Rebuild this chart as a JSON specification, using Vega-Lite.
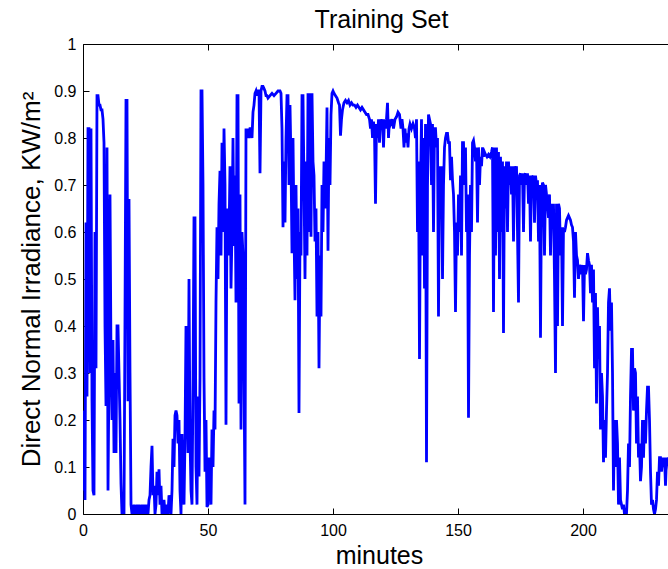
{
  "$schema": "https://vega.github.io/schema/vega-lite/v6.json",
  "width": 585,
  "height": 470,
  "autosize": "none",
  "padding": {"left": 83, "top": 44, "right": 0, "bottom": 55},
  "background": "white",
  "title": {"text": "Training Set", "font": "Liberation Sans", "fontSize": 25, "fontWeight": "normal", "color": "black", "offset": 3, "dx": 6},
  "config": {
    "view": {"stroke": null},
    "axis": {
      "grid": false,
      "domainColor": "black",
      "domainWidth": 1,
      "tickColor": "black",
      "tickWidth": 1,
      "tickSize": -6,
      "labelFont": "Liberation Sans",
      "labelFontSize": 16,
      "labelColor": "black",
      "titleFont": "Liberation Sans",
      "titleFontSize": 25,
      "titleFontWeight": "normal",
      "titleColor": "black"
    }
  },
  "data": {"values": [
    {"t":0.0,"v":0.05},{"t":0.4,"v":0.22},{"t":0.8,"v":0.03},{"t":1.2,"v":0.62},{"t":1.6,"v":0.25},{"t":2.0,"v":0.82},{"t":2.4,"v":0.82},{"t":2.8,"v":0.30},{"t":3.2,"v":0.82},{"t":3.6,"v":0.24},
    {"t":4.0,"v":0.05},{"t":4.4,"v":0.04},{"t":4.8,"v":0.60},{"t":5.2,"v":0.31},{"t":5.6,"v":0.89},{"t":6.0,"v":0.89},{"t":6.4,"v":0.87},{"t":6.8,"v":0.87},{"t":7.2,"v":0.86},{"t":7.6,"v":0.86},
    {"t":8.0,"v":0.84},{"t":8.4,"v":0.79},{"t":8.8,"v":0.40},{"t":9.2,"v":0.23},{"t":9.6,"v":0.78},{"t":10.0,"v":0.05},{"t":10.4,"v":0.30},{"t":10.8,"v":0.68},{"t":11.2,"v":0.33},{"t":11.6,"v":0.20},
    {"t":12.0,"v":0.37},{"t":12.4,"v":0.13},{"t":12.8,"v":0.30},{"t":13.2,"v":0.13},{"t":13.6,"v":0.40},{"t":14.0,"v":0.40},{"t":14.4,"v":0.30},{"t":14.8,"v":0.20},{"t":15.2,"v":0.065},{"t":15.6,"v":0.0},
    {"t":16.0,"v":0.0},{"t":16.4,"v":0.0},{"t":16.8,"v":0.42},{"t":17.2,"v":0.88},{"t":17.6,"v":0.88},{"t":18.0,"v":0.24},{"t":18.4,"v":0.67},{"t":18.8,"v":0.30},{"t":19.2,"v":0.02},{"t":19.6,"v":0.0},
    {"t":20.0,"v":0.0},{"t":20.4,"v":0.02},{"t":20.8,"v":0.0},{"t":21.2,"v":0.0},{"t":21.6,"v":0.02},{"t":22.0,"v":0.0},{"t":22.4,"v":0.02},{"t":22.8,"v":0.0},{"t":23.2,"v":0.0},{"t":23.6,"v":0.02},
    {"t":24.0,"v":0.0},{"t":24.4,"v":0.02},{"t":24.8,"v":0.0},{"t":25.2,"v":0.02},{"t":25.6,"v":0.0},{"t":26.0,"v":0.0},{"t":26.4,"v":0.03},{"t":26.8,"v":0.04},{"t":27.2,"v":0.10},{"t":27.6,"v":0.145},
    {"t":28.0,"v":0.04},{"t":28.4,"v":0.06},{"t":28.8,"v":0.0},{"t":29.2,"v":0.02},{"t":29.6,"v":0.09},{"t":30.0,"v":0.04},{"t":30.4,"v":0.095},{"t":30.8,"v":0.02},{"t":31.2,"v":0.06},{"t":31.6,"v":0.0},
    {"t":32.0,"v":0.0},{"t":32.4,"v":0.03},{"t":32.8,"v":0.0},{"t":33.2,"v":0.0},{"t":33.6,"v":0.02},{"t":34.0,"v":0.0},{"t":34.4,"v":0.04},{"t":34.8,"v":0.02},{"t":35.2,"v":0.0},{"t":35.6,"v":0.05},
    {"t":36.0,"v":0.16},{"t":36.4,"v":0.10},{"t":36.8,"v":0.21},{"t":37.2,"v":0.22},{"t":37.6,"v":0.21},{"t":38.0,"v":0.15},{"t":38.4,"v":0.20},{"t":38.8,"v":0.05},{"t":39.2,"v":0.0},{"t":39.6,"v":0.17},
    {"t":40.0,"v":0.08},{"t":40.4,"v":0.02},{"t":40.8,"v":0.16},{"t":41.2,"v":0.40},{"t":41.6,"v":0.30},{"t":42.0,"v":0.13},{"t":42.4,"v":0.50},{"t":42.8,"v":0.16},{"t":43.2,"v":0.05},{"t":43.6,"v":0.02},
    {"t":44.0,"v":0.28},{"t":44.4,"v":0.63},{"t":44.8,"v":0.63},{"t":45.2,"v":0.10},{"t":45.6,"v":0.02},{"t":46.0,"v":0.25},{"t":46.4,"v":0.08},{"t":46.8,"v":0.29},{"t":47.2,"v":0.90},{"t":47.6,"v":0.90},
    {"t":48.0,"v":0.70},{"t":48.4,"v":0.29},{"t":48.8,"v":0.09},{"t":49.2,"v":0.20},{"t":49.6,"v":0.015},{"t":50.0,"v":0.02},{"t":50.4,"v":0.12},{"t":50.8,"v":0.10},{"t":51.2,"v":0.02},{"t":51.6,"v":0.18},
    {"t":52.0,"v":0.10},{"t":52.4,"v":0.22},{"t":52.8,"v":0.18},{"t":53.2,"v":0.45},{"t":53.6,"v":0.61},{"t":54.0,"v":0.50},{"t":54.4,"v":0.66},{"t":54.8,"v":0.73},{"t":55.2,"v":0.55},{"t":55.6,"v":0.79},
    {"t":56.0,"v":0.60},{"t":56.4,"v":0.82},{"t":56.8,"v":0.70},{"t":57.2,"v":0.19},{"t":57.6,"v":0.65},{"t":58.0,"v":0.55},{"t":58.4,"v":0.59},{"t":58.8,"v":0.74},{"t":59.2,"v":0.48},{"t":59.6,"v":0.60},
    {"t":60.0,"v":0.80},{"t":60.4,"v":0.57},{"t":60.8,"v":0.72},{"t":61.2,"v":0.45},{"t":61.6,"v":0.89},{"t":62.0,"v":0.89},{"t":62.4,"v":0.235},{"t":62.8,"v":0.68},{"t":63.2,"v":0.18},{"t":63.6,"v":0.60},
    {"t":64.0,"v":0.55},{"t":64.4,"v":0.30},{"t":64.8,"v":0.02},{"t":65.2,"v":0.82},{"t":65.6,"v":0.80},{"t":66.0,"v":0.82},{"t":66.4,"v":0.80},{"t":66.8,"v":0.82},{"t":67.2,"v":0.82},{"t":67.6,"v":0.80},
    {"t":68.0,"v":0.855},{"t":68.4,"v":0.87},{"t":68.8,"v":0.895},{"t":69.2,"v":0.90},{"t":69.6,"v":0.89},{"t":70.0,"v":0.90},{"t":70.4,"v":0.90},{"t":70.8,"v":0.725},{"t":71.2,"v":0.90},{"t":71.6,"v":0.91},
    {"t":72.0,"v":0.91},{"t":72.4,"v":0.905},{"t":72.8,"v":0.90},{"t":73.2,"v":0.89},{"t":73.6,"v":0.89},{"t":74.0,"v":0.885},{"t":74.8,"v":0.89},{"t":75.6,"v":0.895},{"t":76.4,"v":0.89},{"t":77.2,"v":0.895},
    {"t":78.0,"v":0.90},{"t":78.8,"v":0.90},{"t":79.2,"v":0.895},{"t":79.6,"v":0.82},{"t":80.0,"v":0.61},{"t":80.4,"v":0.75},{"t":80.8,"v":0.62},{"t":81.2,"v":0.80},{"t":81.6,"v":0.89},{"t":82.0,"v":0.89},
    {"t":82.4,"v":0.70},{"t":82.8,"v":0.87},{"t":83.2,"v":0.75},{"t":83.6,"v":0.555},{"t":84.0,"v":0.80},{"t":84.4,"v":0.60},{"t":84.8,"v":0.455},{"t":85.2,"v":0.70},{"t":85.6,"v":0.50},{"t":86.0,"v":0.65},
    {"t":86.4,"v":0.215},{"t":86.8,"v":0.60},{"t":87.2,"v":0.55},{"t":87.6,"v":0.89},{"t":88.0,"v":0.89},{"t":88.4,"v":0.70},{"t":88.8,"v":0.50},{"t":89.2,"v":0.75},{"t":89.6,"v":0.55},{"t":90.0,"v":0.895},
    {"t":90.4,"v":0.60},{"t":90.8,"v":0.895},{"t":91.2,"v":0.59},{"t":91.6,"v":0.895},{"t":92.0,"v":0.75},{"t":92.4,"v":0.72},{"t":92.8,"v":0.58},{"t":93.2,"v":0.65},{"t":93.6,"v":0.42},{"t":94.0,"v":0.60},
    {"t":94.4,"v":0.31},{"t":94.8,"v":0.55},{"t":95.2,"v":0.42},{"t":95.6,"v":0.70},{"t":96.0,"v":0.60},{"t":96.4,"v":0.75},{"t":96.8,"v":0.65},{"t":97.2,"v":0.72},{"t":97.6,"v":0.865},{"t":98.0,"v":0.56},
    {"t":98.4,"v":0.80},{"t":98.8,"v":0.70},{"t":99.2,"v":0.85},{"t":99.6,"v":0.895},{"t":100.0,"v":0.90},{"t":100.4,"v":0.895},{"t":101.0,"v":0.89},{"t":101.6,"v":0.885},{"t":102.2,"v":0.875},{"t":102.6,"v":0.87},
    {"t":103.0,"v":0.805},{"t":103.4,"v":0.84},{"t":103.8,"v":0.86},{"t":104.4,"v":0.875},{"t":105.0,"v":0.88},{"t":105.6,"v":0.875},{"t":106.2,"v":0.88},{"t":106.8,"v":0.87},{"t":107.4,"v":0.875},{"t":108.0,"v":0.87},
    {"t":108.6,"v":0.87},{"t":109.2,"v":0.865},{"t":109.8,"v":0.87},{"t":110.4,"v":0.865},{"t":111.0,"v":0.86},{"t":111.6,"v":0.865},{"t":112.2,"v":0.86},{"t":112.8,"v":0.855},{"t":113.4,"v":0.85},{"t":114.0,"v":0.85},
    {"t":114.6,"v":0.84},{"t":115.0,"v":0.82},{"t":115.4,"v":0.84},{"t":115.8,"v":0.80},{"t":116.2,"v":0.835},{"t":116.6,"v":0.81},{"t":117.0,"v":0.66},{"t":117.4,"v":0.83},{"t":117.8,"v":0.80},{"t":118.2,"v":0.84},
    {"t":118.6,"v":0.79},{"t":119.0,"v":0.84},{"t":119.4,"v":0.82},{"t":119.8,"v":0.84},{"t":120.2,"v":0.78},{"t":120.6,"v":0.84},{"t":121.0,"v":0.82},{"t":121.4,"v":0.84},{"t":121.8,"v":0.875},{"t":122.2,"v":0.80},
    {"t":122.6,"v":0.84},{"t":123.0,"v":0.83},{"t":123.6,"v":0.84},{"t":124.2,"v":0.82},{"t":124.8,"v":0.84},{"t":125.4,"v":0.845},{"t":126.0,"v":0.855},{"t":126.6,"v":0.85},{"t":127.2,"v":0.82},{"t":127.6,"v":0.84},
    {"t":128.0,"v":0.82},{"t":128.4,"v":0.78},{"t":128.8,"v":0.82},{"t":129.2,"v":0.79},{"t":129.6,"v":0.81},{"t":130.0,"v":0.78},{"t":130.4,"v":0.82},{"t":130.8,"v":0.83},{"t":131.4,"v":0.82},{"t":132.0,"v":0.83},
    {"t":132.6,"v":0.82},{"t":133.0,"v":0.80},{"t":133.4,"v":0.84},{"t":133.8,"v":0.60},{"t":134.2,"v":0.75},{"t":134.6,"v":0.33},{"t":135.0,"v":0.70},{"t":135.4,"v":0.84},{"t":135.8,"v":0.55},{"t":136.2,"v":0.80},
    {"t":136.6,"v":0.48},{"t":137.0,"v":0.83},{"t":137.4,"v":0.11},{"t":137.8,"v":0.70},{"t":138.2,"v":0.85},{"t":138.6,"v":0.84},{"t":139.0,"v":0.83},{"t":139.4,"v":0.70},{"t":139.8,"v":0.83},{"t":140.2,"v":0.60},
    {"t":140.6,"v":0.82},{"t":141.0,"v":0.82},{"t":141.4,"v":0.78},{"t":141.8,"v":0.80},{"t":142.2,"v":0.42},{"t":142.6,"v":0.74},{"t":143.0,"v":0.68},{"t":143.4,"v":0.74},{"t":143.8,"v":0.50},{"t":144.2,"v":0.70},
    {"t":144.6,"v":0.78},{"t":145.0,"v":0.80},{"t":145.4,"v":0.81},{"t":145.8,"v":0.81},{"t":146.2,"v":0.79},{"t":146.6,"v":0.79},{"t":147.0,"v":0.71},{"t":147.4,"v":0.76},{"t":147.8,"v":0.71},{"t":148.2,"v":0.68},
    {"t":148.6,"v":0.60},{"t":149.0,"v":0.43},{"t":149.4,"v":0.62},{"t":149.8,"v":0.55},{"t":150.2,"v":0.68},{"t":150.6,"v":0.60},{"t":151.0,"v":0.72},{"t":151.4,"v":0.55},{"t":151.8,"v":0.79},{"t":152.2,"v":0.79},
    {"t":152.6,"v":0.70},{"t":153.0,"v":0.78},{"t":153.4,"v":0.60},{"t":153.8,"v":0.68},{"t":154.2,"v":0.205},{"t":154.6,"v":0.55},{"t":155.0,"v":0.70},{"t":155.4,"v":0.60},{"t":155.8,"v":0.79},{"t":156.2,"v":0.795},
    {"t":156.6,"v":0.78},{"t":157.0,"v":0.75},{"t":157.4,"v":0.78},{"t":157.8,"v":0.62},{"t":158.2,"v":0.78},{"t":158.6,"v":0.70},{"t":159.0,"v":0.76},{"t":159.4,"v":0.74},{"t":159.8,"v":0.78},{"t":160.2,"v":0.76},
    {"t":160.6,"v":0.77},{"t":161.0,"v":0.765},{"t":161.6,"v":0.76},{"t":162.2,"v":0.765},{"t":162.8,"v":0.76},{"t":163.4,"v":0.77},{"t":163.8,"v":0.78},{"t":164.2,"v":0.43},{"t":164.6,"v":0.78},{"t":165.0,"v":0.55},
    {"t":165.4,"v":0.78},{"t":165.8,"v":0.60},{"t":166.2,"v":0.77},{"t":166.6,"v":0.50},{"t":167.0,"v":0.76},{"t":167.4,"v":0.60},{"t":167.8,"v":0.75},{"t":168.2,"v":0.385},{"t":168.6,"v":0.74},{"t":169.0,"v":0.65},
    {"t":169.4,"v":0.75},{"t":169.8,"v":0.60},{"t":170.2,"v":0.75},{"t":170.6,"v":0.70},{"t":171.0,"v":0.74},{"t":171.4,"v":0.68},{"t":171.8,"v":0.74},{"t":172.2,"v":0.58},{"t":172.6,"v":0.74},{"t":173.0,"v":0.72},
    {"t":173.4,"v":0.74},{"t":173.8,"v":0.60},{"t":174.2,"v":0.45},{"t":174.6,"v":0.72},{"t":175.0,"v":0.725},{"t":175.4,"v":0.70},{"t":175.8,"v":0.725},{"t":176.2,"v":0.60},{"t":176.6,"v":0.72},{"t":177.0,"v":0.725},
    {"t":177.4,"v":0.70},{"t":177.8,"v":0.725},{"t":178.2,"v":0.66},{"t":178.6,"v":0.72},{"t":179.0,"v":0.58},{"t":179.4,"v":0.72},{"t":179.8,"v":0.71},{"t":180.2,"v":0.72},{"t":180.6,"v":0.62},{"t":181.0,"v":0.72},
    {"t":181.4,"v":0.70},{"t":181.8,"v":0.71},{"t":182.2,"v":0.58},{"t":182.6,"v":0.70},{"t":183.0,"v":0.375},{"t":183.4,"v":0.68},{"t":183.8,"v":0.705},{"t":184.2,"v":0.70},{"t":184.6,"v":0.55},{"t":185.0,"v":0.70},
    {"t":185.4,"v":0.68},{"t":185.8,"v":0.66},{"t":186.2,"v":0.63},{"t":186.6,"v":0.68},{"t":187.0,"v":0.55},{"t":187.4,"v":0.66},{"t":187.8,"v":0.63},{"t":188.2,"v":0.66},{"t":188.6,"v":0.50},{"t":189.0,"v":0.30},
    {"t":189.4,"v":0.66},{"t":189.8,"v":0.40},{"t":190.2,"v":0.66},{"t":190.6,"v":0.65},{"t":191.0,"v":0.55},{"t":191.4,"v":0.61},{"t":191.8,"v":0.40},{"t":192.2,"v":0.61},{"t":192.6,"v":0.60},{"t":193.0,"v":0.61},
    {"t":193.4,"v":0.625},{"t":193.8,"v":0.63},{"t":194.2,"v":0.635},{"t":194.6,"v":0.63},{"t":195.0,"v":0.625},{"t":195.4,"v":0.615},{"t":195.8,"v":0.61},{"t":196.2,"v":0.58},{"t":196.6,"v":0.46},{"t":197.0,"v":0.60},
    {"t":197.4,"v":0.55},{"t":197.8,"v":0.54},{"t":198.2,"v":0.50},{"t":198.6,"v":0.53},{"t":199.0,"v":0.52},{"t":199.4,"v":0.51},{"t":199.8,"v":0.53},{"t":200.2,"v":0.41},{"t":200.6,"v":0.53},{"t":201.0,"v":0.51},
    {"t":201.4,"v":0.52},{"t":201.8,"v":0.555},{"t":202.2,"v":0.54},{"t":202.6,"v":0.53},{"t":203.0,"v":0.47},{"t":203.4,"v":0.53},{"t":203.8,"v":0.45},{"t":204.2,"v":0.52},{"t":204.6,"v":0.31},{"t":205.0,"v":0.47},
    {"t":205.4,"v":0.235},{"t":205.8,"v":0.44},{"t":206.2,"v":0.33},{"t":206.6,"v":0.40},{"t":207.0,"v":0.18},{"t":207.4,"v":0.30},{"t":207.8,"v":0.25},{"t":208.2,"v":0.11},{"t":208.6,"v":0.20},{"t":209.0,"v":0.12},
    {"t":209.4,"v":0.22},{"t":209.8,"v":0.30},{"t":210.2,"v":0.45},{"t":210.6,"v":0.48},{"t":211.0,"v":0.39},{"t":211.4,"v":0.45},{"t":211.8,"v":0.30},{"t":212.2,"v":0.05},{"t":212.6,"v":0.20},{"t":213.0,"v":0.10},
    {"t":213.4,"v":0.20},{"t":213.8,"v":0.15},{"t":214.2,"v":0.02},{"t":214.6,"v":0.12},{"t":215.0,"v":0.03},{"t":215.4,"v":0.02},{"t":215.8,"v":0.01},{"t":216.2,"v":0.02},{"t":216.6,"v":0.0},{"t":217.0,"v":0.01},
    {"t":217.4,"v":0.0},{"t":217.8,"v":0.05},{"t":218.2,"v":0.15},{"t":218.6,"v":0.10},{"t":219.0,"v":0.25},{"t":219.4,"v":0.35},{"t":219.8,"v":0.35},{"t":220.2,"v":0.22},{"t":220.6,"v":0.31},{"t":221.0,"v":0.30},
    {"t":221.4,"v":0.15},{"t":221.8,"v":0.25},{"t":222.2,"v":0.12},{"t":222.6,"v":0.15},{"t":223.0,"v":0.07},{"t":223.4,"v":0.10},{"t":223.8,"v":0.20},{"t":224.2,"v":0.12},{"t":224.6,"v":0.20},{"t":225.0,"v":0.15},
    {"t":225.4,"v":0.22},{"t":225.8,"v":0.27},{"t":226.2,"v":0.27},{"t":226.6,"v":0.20},{"t":227.0,"v":0.09},{"t":227.4,"v":0.02},{"t":227.8,"v":0.03},{"t":228.2,"v":0.01},{"t":228.6,"v":0.0},{"t":229.0,"v":0.01},
    {"t":229.4,"v":0.03},{"t":229.8,"v":0.09},{"t":230.2,"v":0.06},{"t":230.6,"v":0.12},{"t":231.0,"v":0.12},{"t":231.4,"v":0.09},{"t":231.8,"v":0.12},{"t":232.2,"v":0.10},{"t":232.6,"v":0.12},{"t":233.0,"v":0.06},
    {"t":233.4,"v":0.12},{"t":233.8,"v":0.11},{"t":234.2,"v":0.12},{"t":234.6,"v":0.09},{"t":235.0,"v":0.11},{"t":235.4,"v":0.06},{"t":235.8,"v":0.12},{"t":236.2,"v":0.10},{"t":236.6,"v":0.13},{"t":237.0,"v":0.08},
    {"t":237.4,"v":0.12},{"t":238.0,"v":0.10},{"t":238.6,"v":0.07},{"t":239.2,"v":0.10},{"t":240.0,"v":0.05}
  ]},
  "layer": [
    {
      "mark": {"type": "line", "color": "#0000ff", "strokeWidth": 2.8, "clip": true},
      "encoding": {
        "x": {
          "field": "t", "type": "quantitative",
          "scale": {"domain": [0, 234], "nice": false, "zero": false},
          "axis": {"orient": "bottom", "values": [0, 50, 100, 150, 200], "labelFlush": false, "labelPadding": 14, "title": "minutes", "titlePadding": 5, "titleX": 296}
        },
        "y": {
          "field": "v", "type": "quantitative",
          "scale": {"domain": [0, 1], "nice": false},
          "axis": {"values": [0, 0.1, 0.2, 0.3, 0.4, 0.5, 0.6, 0.7, 0.8, 0.9, 1], "format": "~g", "labelPadding": 13, "title": "Direct Normal Irradiance, KW/m²", "titleFontSize": 26, "titlePadding": 9}
        }
      }
    },
    {
      "mark": {"type": "rule", "opacity": 0, "clip": true},
      "encoding": {
        "x": {
          "field": "t", "type": "quantitative",
          "axis": {"orient": "top", "values": [0, 50, 100, 150, 200], "labels": false, "title": null}
        }
      }
    }
  ],
  "resolve": {"axis": {"x": "independent"}}
}
